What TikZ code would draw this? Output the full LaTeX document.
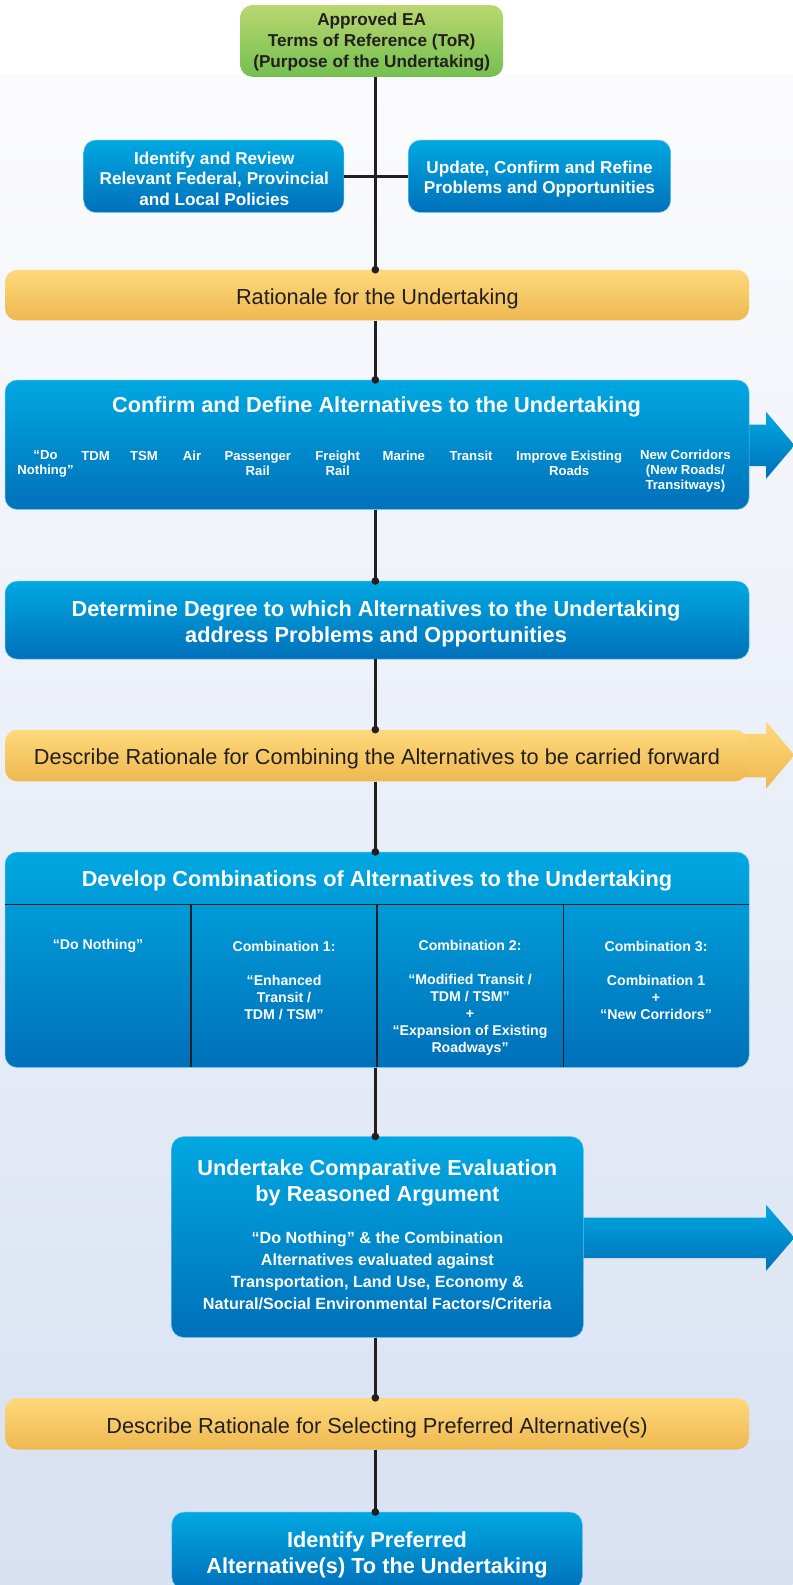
\documentclass[tikz,border=0pt]{standalone}
\usepackage{fontspec}
\setmainfont{Liberation Sans}
\definecolor{bluetop}{RGB}{0,168,225}
\definecolor{bluebot}{RGB}{0,112,186}
\definecolor{blueedge}{RGB}{90,195,238}
\definecolor{yeltop}{RGB}{254,217,124}
\definecolor{yelbot}{RGB}{238,184,80}
\definecolor{grntop}{RGB}{186,215,112}
\definecolor{grnbot}{RGB}{116,191,80}
\definecolor{lineC}{RGB}{35,31,32}
\definecolor{darktext}{RGB}{35,31,32}
\definecolor{bgtop}{RGB}{251,251,253}
\definecolor{bgbot}{RGB}{216,225,242}
\tikzset{
  conn/.style={draw=lineC, line width=2.4pt},
  dotc/.style={fill=lineC},
  divider/.style={draw=lineC, line width=1.3pt},
  bluebox/.style={rounded corners=12pt, top color=bluetop, bottom color=bluebot, draw=blueedge, line width=0.5pt, inner sep=0pt},
  yelbox/.style={rounded corners=12pt, top color=yeltop, bottom color=yelbot, draw=none, inner sep=0pt},
  grnbox/.style={rounded corners=12pt, top color=grntop, bottom color=grnbot, draw=none, inner sep=0pt},
  wtxt/.style={inner sep=0pt, align=center, text=white},
  dtxt/.style={inner sep=0pt, align=center, text=darktext},
  tseventeen/.style={font=\fontsize{17}{20.6}\selectfont\bfseries},
  ttitle/.style={font=\fontsize{21.5}{25.6}\selectfont\bfseries},
  tbar/.style={font=\fontsize{21.5}{25.6}\selectfont},
  titem/.style={font=\fontsize{13}{15}\selectfont\bfseries},
  tcol/.style={font=\fontsize{14}{16.9}\selectfont\bfseries},
  tsub/.style={font=\fontsize{16}{21.7}\selectfont\bfseries},
}
\begin{document}
\begin{tikzpicture}[x=1pt,y=-1pt]
\useasboundingbox (0,0) rectangle (784,1568);
% background
\fill[white] (0,0) rectangle (784,74);
\shade[top color=bgtop, bottom color=bgbot] (0,74) rectangle (784,1568);
\coordinate (spine) at (371.3,0);

% right-pointing arrows (drawn behind their boxes)
\shade[top color=bluetop, bottom color=bluebot] (730,420) -- (758,420) -- (758,407.5) -- (786,440.5) -- (758,473.5) -- (758,461) -- (730,461) -- cycle;
\shade[top color=yeltop, bottom color=yelbot] (730,726) -- (758,726) -- (758,714) -- (786,747) -- (758,780) -- (758,769) -- (730,769) -- cycle;
\shade[top color=bluetop, bottom color=bluebot] (570,1204.5) -- (758,1204.5) -- (758,1192) -- (786,1224.5) -- (758,1257) -- (758,1244.5) -- (570,1244.5) -- cycle;

% boxes
\node[grnbox, minimum width=260pt, minimum height=71pt] (approved) at (367.7,40.5) {};
\node[dtxt, tseventeen] (approvedtxt) at (367.7,41.4) {Approved EA\\Terms of Reference (ToR)\\(Purpose of the Undertaking)};

\node[bluebox, minimum width=257.4pt, minimum height=71.6pt] (policies) at (211.5,174.4) {};
\node[wtxt, tseventeen] (policiestxt) at (212,176.9) {Identify and Review\\Relevant Federal, Provincial\\and Local Policies};

\node[bluebox, minimum width=259.4pt, minimum height=71.6pt] (problems) at (533.7,174.4) {};
\node[wtxt, tseventeen] (problemstxt) at (533.7,177.1) {Update, Confirm and Refine\\Problems and Opportunities};

\node[yelbox, minimum width=736pt, minimum height=50pt] (rationale) at (373,292) {};
\node[dtxt, tbar] (rationaletxt) at (373.3,295.8) {Rationale for the Undertaking};

\node[bluebox, minimum width=736pt, minimum height=128pt] (confirm) at (373,440) {};
\node[wtxt, ttitle] (confirmtitle) at (372.5,403) {Confirm and Define Alternatives to the Undertaking};
\node[wtxt, titem] (itdo) at (45,458.5) {``Do\\Nothing''};
\node[wtxt, titem] (ittdm) at (94.5,451) {TDM};
\node[wtxt, titem] (ittsm) at (142.5,451) {TSM};
\node[wtxt, titem] (itair) at (190,451) {Air};
\node[wtxt, titem] (itpass) at (255,458.5) {Passenger\\Rail};
\node[wtxt, titem] (itfreight) at (334,458.5) {Freight\\Rail};
\node[wtxt, titem] (itmarine) at (399.5,451) {Marine};
\node[wtxt, titem] (ittransit) at (466,451) {Transit};
\node[wtxt, titem] (itimprove) at (563,458.5) {Improve Existing\\Roads};
\node[wtxt, titem] (itnew) at (678,466) {New Corridors\\(New Roads/\\Transitways)};

\node[bluebox, minimum width=736pt, minimum height=77pt] (determine) at (373,613.5) {};
\node[wtxt, ttitle] (determinetxt) at (372,616.9) {Determine Degree to which Alternatives to the Undertaking\\address Problems and Opportunities};

\node[yelbox, minimum width=734pt, minimum height=51pt] (combining) at (372,747.5) {};
\node[dtxt, tbar] (combiningtxt) at (373,751) {Describe Rationale for Combining the Alternatives to be carried forward};

\node[bluebox, minimum width=736pt, minimum height=213pt] (develop) at (373,949.5) {};
\node[wtxt, ttitle] (developtitle) at (373,871) {Develop Combinations of Alternatives to the Undertaking};
\draw[divider] (5,895) -- (741,895);
\draw[divider] (189,895) -- (189,1056);
\draw[divider] (373,895) -- (373,1056);
\draw[divider] (557.5,895) -- (557.5,1056);
\node[wtxt, tcol] (colzero) at (97,936) {``Do Nothing''};
\node[wtxt, tcol] (colone) at (281,970.2) {Combination 1:\\[16.9pt]``Enhanced\\Transit /\\TDM / TSM''};
\node[wtxt, tcol] (coltwo) at (465,987) {Combination 2:\\[16.9pt]``Modified Transit /\\TDM / TSM''\\+\\``Expansion of Existing\\Roadways''};
\node[wtxt, tcol] (colthree) at (649,970.2) {Combination 3:\\[16.9pt]Combination 1\\+\\``New Corridors''};

\node[bluebox, minimum width=407.4pt, minimum height=198.5pt] (undertake) at (373.3,1223.75) {};
\node[wtxt, ttitle] (undertaketitle) at (373.3,1170.6) {Undertake Comparative Evaluation\\by Reasoned Argument};
\node[wtxt, tsub] (undertakesub) at (373.3,1257.3) {``Do Nothing'' \& the Combination\\Alternatives evaluated against\\Transportation, Land Use, Economy \&\\Natural/Social Environmental Factors/Criteria};

\node[yelbox, minimum width=736pt, minimum height=51pt] (selecting) at (373,1408.5) {};
\node[dtxt, tbar] (selectingtxt) at (373,1412.1) {Describe Rationale for Selecting Preferred Alternative(s)};

\node[bluebox, minimum width=406pt, minimum height=76pt] (final) at (373,1534) {};
\node[wtxt, ttitle] (finaltxt) at (373,1538.4) {Identify Preferred\\Alternative(s) To the Undertaking};

% connectors
\draw[conn] (policies.east) -- (problems.west);
\draw[conn] (approved.south -| spine) -- (rationale.north -| spine);
\draw[conn] (rationale.south -| spine) -- (confirm.north -| spine);
\draw[conn] (confirm.south -| spine) -- (determine.north -| spine);
\draw[conn] (determine.south -| spine) -- (combining.north -| spine);
\draw[conn] (combining.south -| spine) -- (develop.north -| spine);
\draw[conn] (develop.south -| spine) -- (undertake.north -| spine);
\draw[conn] (undertake.south -| spine) -- (selecting.north -| spine);
\draw[conn] (selecting.south -| spine) -- (final.north -| spine);
\foreach \n in {rationale,confirm,determine,combining,develop,undertake,selecting,final}
  \fill[dotc] (\n.north -| spine) circle (3.8pt);
\end{tikzpicture}
\end{document}
